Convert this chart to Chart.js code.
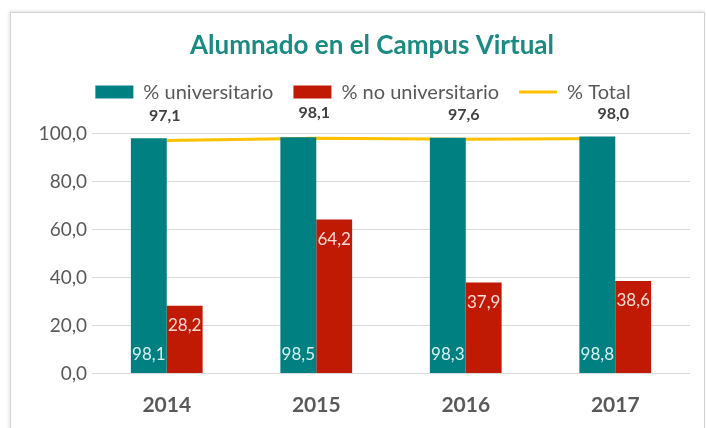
<!DOCTYPE html>
<html>
<head>
<meta charset="utf-8">
<script src="https://cdn.jsdelivr.net/npm/chart.js@4"></script>
<style>
  html, body { margin: 0; padding: 0; background: #fff; }
  #wrap { position: relative; width: 707px; height: 428px; overflow: hidden; }
  #frame { position: absolute; left: 10px; top: 12px; width: 693px; height: 440px;
           border: 1px solid #d4d4d4; box-shadow: -1px -1px 3px rgba(0,0,0,0.12); }
  canvas { position: absolute; left: 0; top: 0; }
</style>
</head>
<body>
<div id="wrap">
  <div id="frame"></div>
  <canvas id="c" width="707" height="428"></canvas>
</div>
<script>
const categories = ['2014', '2015', '2016', '2017'];
const universitario = [98.1, 98.5, 98.3, 98.8];
const noUniversitario = [28.2, 64.2, 37.9, 38.6];
const total = [97.1, 98.1, 97.6, 98.0];
const seriesNames = ['% universitario', '% no universitario', '% Total'];
const titleText = 'Alumnado en el Campus Virtual';

const TEAL = '#008080';
const RED = '#C01A04';
const GOLD = '#FFC000';
const FONT = 'Lato, "Open Sans", sans-serif';

const fmt = v => Number(v).toFixed(1).replace('.', ',');

const layoutTweaks = {
  id: 'layoutTweaks',
  afterInit(chart) {
    const lg = chart.legend;
    if (!lg) return;
    const orig = lg.fit;
    lg.fit = function () { orig.call(this); this.height += 21.5; };
  },
  afterLayout(chart) {
    if (chart.titleBlock) { chart.titleBlock.left += 54; }
    if (chart.legend) { chart.legend.left += 18; chart.legend.right += 18; }
  }
};

const valueLabels = {
  id: 'valueLabels',
  afterDatasetsDraw(chart) {
    const ctx = chart.ctx;
    ctx.save();
    ctx.textAlign = 'center';
    ctx.textBaseline = 'middle';
    chart.data.datasets.forEach((ds, i) => {
      const meta = chart.getDatasetMeta(i);
      meta.data.forEach((el, j) => {
        const v = ds.data[j];
        if (i === 0) {
          ctx.font = '17px ' + FONT;
          ctx.fillStyle = '#d8efef';
          ctx.fillText(fmt(v), el.x, el.base - 18);
        } else if (i === 1) {
          ctx.font = '17px ' + FONT;
          ctx.fillStyle = '#f9dcd6';
          ctx.fillText(fmt(v), el.x, el.y + 20);
        } else {
          ctx.font = 'bold 16px ' + FONT;
          ctx.fillStyle = '#404040';
          ctx.fillText(fmt(v), el.x - 2, el.y - 25);
        }
      });
    });
    ctx.restore();
  }
};

new Chart(document.getElementById('c'), {
  data: {
    labels: categories,
    datasets: [
      { type: 'bar', label: seriesNames[0], data: universitario, backgroundColor: TEAL,
        borderWidth: 0, categoryPercentage: 0.48, barPercentage: 1.0 },
      { type: 'bar', label: seriesNames[1], data: noUniversitario, backgroundColor: RED,
        borderWidth: 0, categoryPercentage: 0.48, barPercentage: 1.0 },
      { type: 'line', label: seriesNames[2], data: total, borderColor: GOLD, backgroundColor: GOLD,
        borderWidth: 3, pointRadius: 0, pointStyle: 'line', fill: false, tension: 0 }
    ]
  },
  options: {
    responsive: false,
    animation: false,
    devicePixelRatio: 1,
    layout: { padding: { left: 0, right: 17, top: 0, bottom: 0 } },
    plugins: {
      title: {
        display: true, text: titleText, color: '#1A8A82',
        font: { family: FONT, size: 26, weight: 'bold', lineHeight: 1.2 },
        padding: { top: 30.4, bottom: 0.5 }
      },
      legend: {
        display: true, position: 'top',
        labels: {
          color: '#595959', font: { family: FONT, size: 20 },
          boxWidth: 38, boxHeight: 13, padding: 20,
          usePointStyle: true, pointStyleWidth: 38,
          generateLabels(chart) {
            const items = Chart.defaults.plugins.legend.labels.generateLabels(chart);
            items.forEach(it => {
              if (it.datasetIndex === 2) { it.pointStyle = 'line'; it.lineWidth = 3; it.strokeStyle = GOLD; }
              else { it.pointStyle = 'rect'; it.lineWidth = 0; }
            });
            return items;
          }
        }
      },
      tooltip: { enabled: false }
    },
    scales: {
      x: {
        grid: { display: false, drawTicks: false },
        border: { display: false },
        ticks: { color: '#595959', font: { family: FONT, size: 21, weight: 'bold' }, padding: 19 },
        afterFit(s) { s.height = 54.5; }
      },
      y: {
        min: 0, max: 100,
        grid: { color: '#d9d9d9', lineWidth: 1, drawTicks: false },
        border: { display: false },
        ticks: { stepSize: 20, color: '#595959', font: { family: FONT, size: 19 }, padding: 5,
                 callback: v => fmt(v) },
        afterFit(s) { s.width = 92; }
      }
    }
  },
  plugins: [layoutTweaks, valueLabels]
});
</script>
</body>
</html>
